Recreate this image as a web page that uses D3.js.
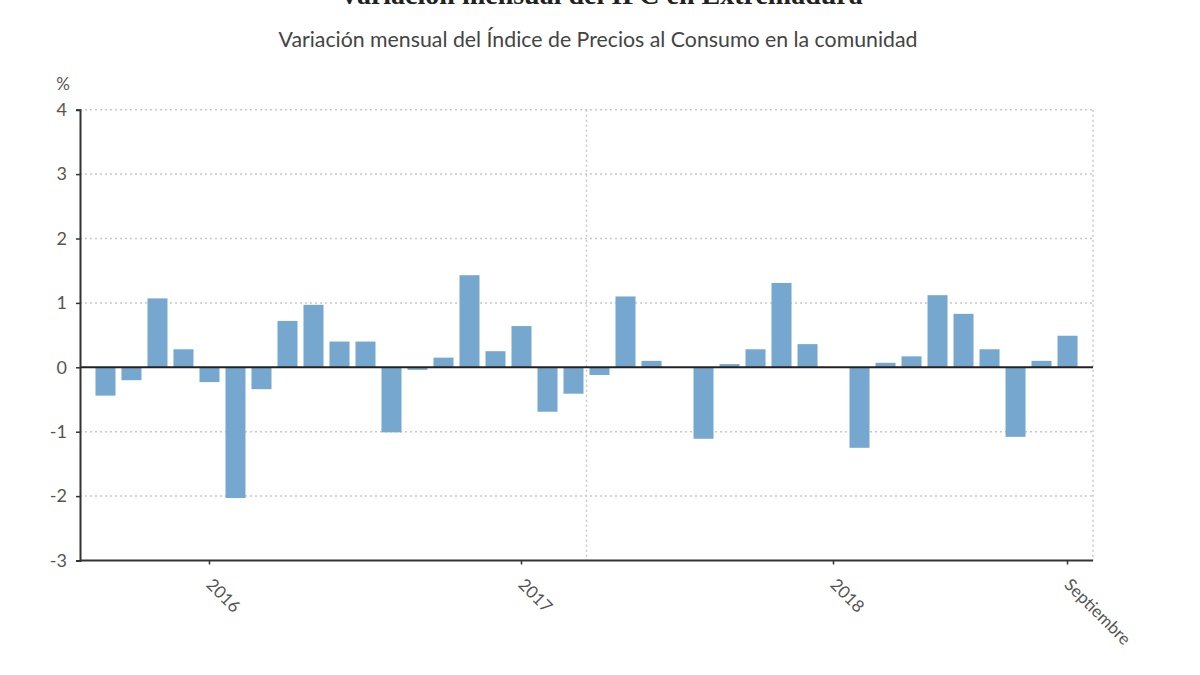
<!DOCTYPE html>
<html>
<head>
<meta charset="utf-8">
<script src="https://cdn.jsdelivr.net/npm/d3@7"></script>
<style>
  html, body { margin: 0; padding: 0; background: #fff; }
  svg { display: block; }
</style>
</head>
<body>
<svg id="chart" width="1200" height="675"></svg>
<script>
// ---- Data ----
const title = "Variación mensual del IPC en Extremadura";
const subtitle = "Variación mensual del Índice de Precios al Consumo en la comunidad";
const unitLabel = "%";
const months = [
  "Ago 2015","Sep 2015","Oct 2015","Nov 2015","Dic 2015",
  "Ene 2016","Feb 2016","Mar 2016","Abr 2016","May 2016","Jun 2016","Jul 2016","Ago 2016","Sep 2016","Oct 2016","Nov 2016","Dic 2016",
  "Ene 2017","Feb 2017","Mar 2017","Abr 2017","May 2017","Jun 2017","Jul 2017","Ago 2017","Sep 2017","Oct 2017","Nov 2017","Dic 2017",
  "Ene 2018","Feb 2018","Mar 2018","Abr 2018","May 2018","Jun 2018","Jul 2018","Ago 2018","Sep 2018"
];
const values = [
  -0.44, -0.20, 1.07, 0.28, -0.23,
  -2.03, -0.34, 0.72, 0.97, 0.40, 0.40, -1.01, -0.04, 0.15, 1.43, 0.25, 0.64,
  -0.69, -0.41, -0.12, 1.10, 0.10, 0.00, -1.11, 0.05, 0.28, 1.31, 0.36, 0.00,
  -1.25, 0.07, 0.17, 1.12, 0.83, 0.28, -1.08, 0.10, 0.49
];
const xTickMonths = ["Dic 2015", "Dic 2016", "Dic 2017", "Sep 2018"];
const xTickLabels = ["2016", "2017", "2018", "Septiembre"];
const yTicks = [-3, -2, -1, 0, 1, 2, 3, 4];

// ---- Layout ----
const svg = d3.select("#chart");
const plotLeft = 80, plotRight = 1093, plotTop = 109.7, plotBottom = 560.5;
const textColor = "#555";
const barColor = "#76a8cf";
const sans = "Lato, 'Open Sans', sans-serif";

const x = d3.scaleBand().domain(months).range([plotLeft, plotRight])
  .paddingInner(0.23).paddingOuter(0.595);
const y = d3.scaleLinear().domain([-3, 4]).range([plotBottom, plotTop]);

// Title (cut off at the top edge, as in the reference)
svg.append("text")
  .attr("x", 601).attr("y", 4)
  .attr("text-anchor", "middle")
  .attr("font-family", "Liberation Serif, DejaVu Serif, serif")
  .attr("font-weight", "bold")
  .attr("font-size", 28)
  .attr("fill", "#222")
  .text(title);

svg.append("text")
  .attr("x", 598).attr("y", 47)
  .attr("text-anchor", "middle")
  .attr("font-family", sans)
  .attr("font-size", 21.3)
  .attr("fill", "#444")
  .text(subtitle);

// Horizontal grid
svg.append("g")
  .selectAll("line")
  .data(yTicks.filter(d => d !== 0 && d !== -3))
  .join("line")
  .attr("x1", plotLeft).attr("x2", plotRight)
  .attr("y1", d => y(d)).attr("y2", d => y(d))
  .attr("stroke", "#c8c8c8")
  .attr("stroke-width", 1.5)
  .attr("stroke-dasharray", "2,3");

// Vertical grid (middle and right edge)
svg.append("g")
  .selectAll("line")
  .data([(plotLeft + plotRight) / 2, plotRight])
  .join("line")
  .attr("x1", d => d).attr("x2", d => d)
  .attr("y1", plotTop).attr("y2", plotBottom)
  .attr("stroke", "#c8c8c8")
  .attr("stroke-width", 1.5)
  .attr("stroke-dasharray", "2,3");

// Bars
svg.append("g")
  .selectAll("rect")
  .data(values.map((v, i) => ({ m: months[i], v })))
  .join("rect")
  .attr("x", d => x(d.m))
  .attr("width", x.bandwidth())
  .attr("y", d => y(Math.max(0, d.v)))
  .attr("height", d => Math.abs(y(d.v) - y(0)))
  .attr("fill", barColor);

// Zero line
svg.append("line")
  .attr("x1", plotLeft).attr("x2", plotRight)
  .attr("y1", y(0)).attr("y2", y(0))
  .attr("stroke", "#222").attr("stroke-width", 2);

// Y axis
const yAxis = svg.append("g")
  .attr("transform", `translate(${plotLeft},0)`)
  .call(d3.axisLeft(y).tickValues(yTicks).tickSize(4).tickPadding(9).tickFormat(d => String(d)));
yAxis.select(".domain").attr("stroke", "#333").attr("stroke-width", 2);
yAxis.selectAll(".tick line").attr("stroke", "#333").attr("stroke-width", 1.5);
yAxis.selectAll(".tick text")
  .attr("font-family", sans)
  .attr("font-size", 18)
  .attr("fill", textColor);

svg.append("text")
  .attr("x", 63).attr("y", 90)
  .attr("text-anchor", "middle")
  .attr("font-family", sans)
  .attr("font-size", 17)
  .attr("fill", textColor)
  .text(unitLabel);

// X axis
const xAxis = svg.append("g")
  .attr("transform", `translate(0,${plotBottom})`)
  .call(d3.axisBottom(x).tickValues(xTickMonths).tickSize(4).tickSizeOuter(0)
    .tickFormat(d => xTickLabels[xTickMonths.indexOf(d)]));
xAxis.select(".domain").attr("stroke", "#333").attr("stroke-width", 2)
  .attr("d", `M${plotLeft},0H${plotRight}`);
xAxis.selectAll(".tick line").attr("stroke", "#333").attr("stroke-width", 1.5);
xAxis.selectAll(".tick text")
  .attr("font-family", sans)
  .attr("font-size", 17)
  .attr("fill", textColor)
  .attr("text-anchor", "start")
  .attr("x", 0).attr("y", 0).attr("dy", "0.35em")
  .attr("transform", "translate(0,21) rotate(45)");
</script>
</body>
</html>
